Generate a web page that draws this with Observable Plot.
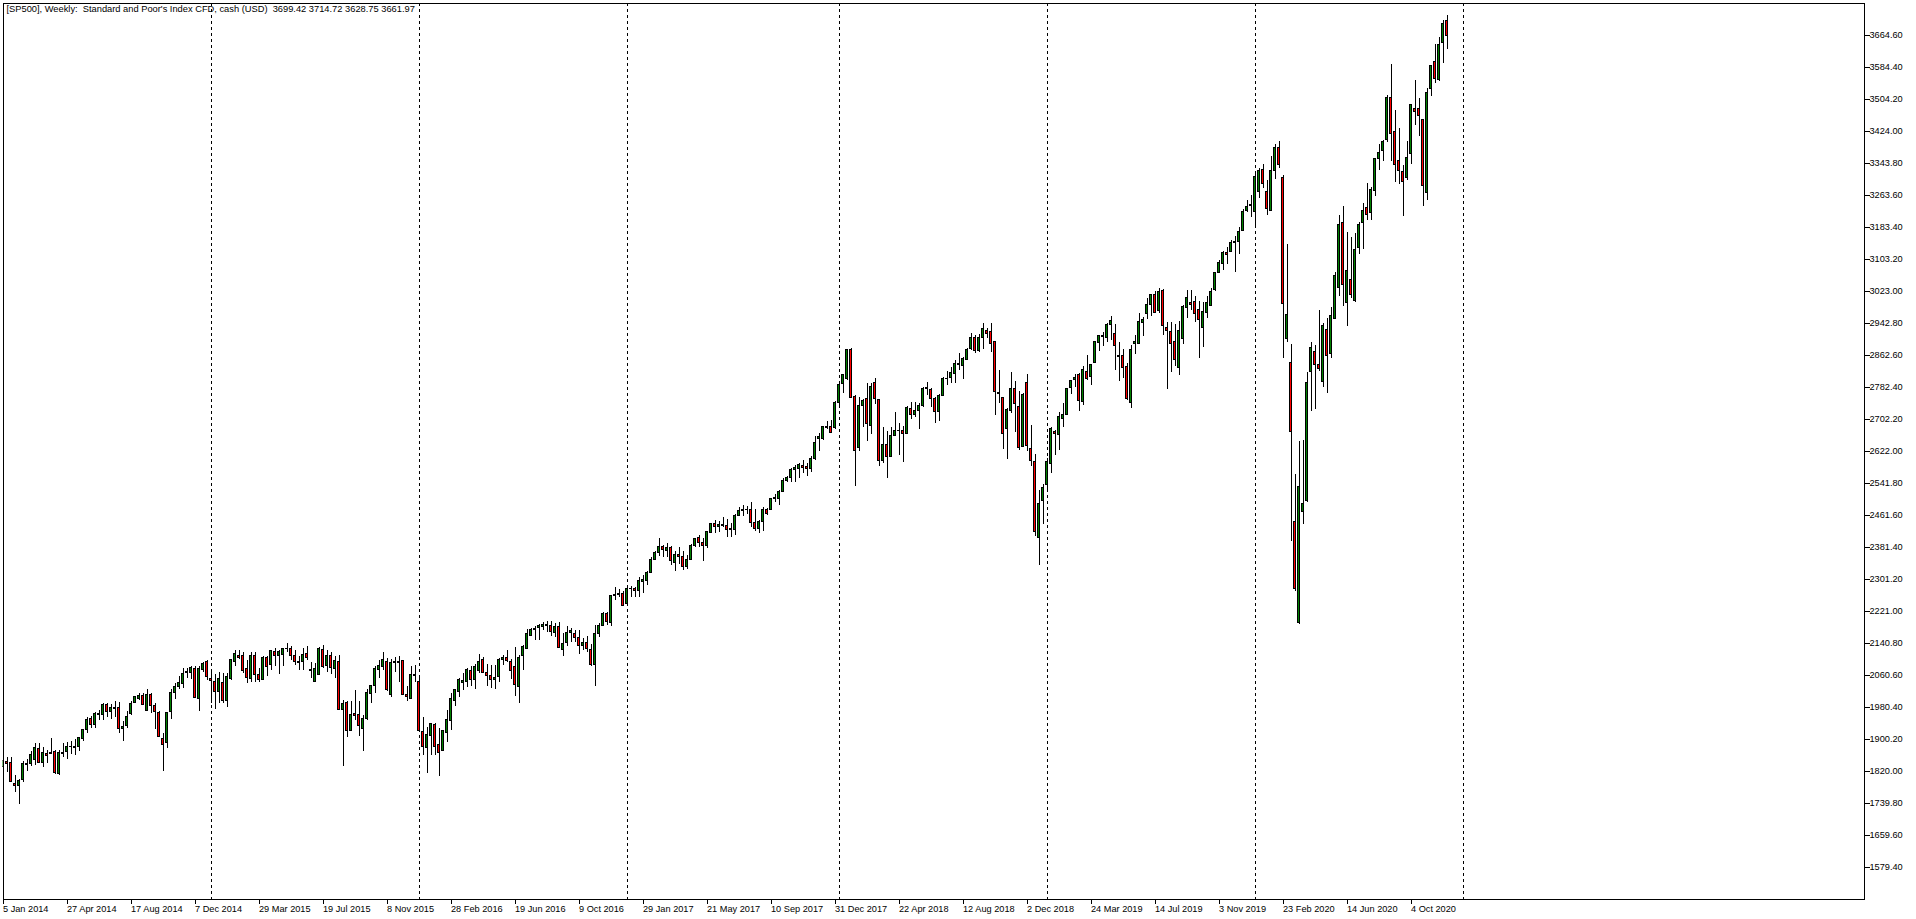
<!DOCTYPE html>
<html>
<head>
<meta charset="utf-8">
<script src="https://cdn.jsdelivr.net/npm/d3@7"></script>
<script src="https://cdn.jsdelivr.net/npm/@observablehq/plot@0.6"></script>
<style>
html,body{margin:0;padding:0;background:#fff;overflow:hidden}
svg{display:block}
svg text{white-space:pre}
</style>
</head>
<body>
<div id="chart"></div>
<script>
// Weekly bars, each [open, high, low, close]
const bars2014 = [[1830,1847,1826,1844],[1843,1853,1815,1838],[1841,1853,1790,1792],[1788,1809,1767,1782],[1782,1798,1737,1796],[1797,1844,1790,1838],[1835,1849,1820,1838],[1838,1868,1832,1861],[1848,1890,1835,1878],[1876,1888,1838,1840],[1840,1878,1829,1865],[1863,1872,1838,1858],[1866,1902,1862,1863],[1868,1872,1812,1815],[1812,1872,1809,1866],[1862,1889,1853,1866],[1868,1892,1848,1881],[1879,1893,1861,1881],[1878,1900,1859,1879],[1880,1905,1868,1902],[1901,1924,1893,1924],[1923,1954,1914,1949],[1951,1957,1926,1936],[1935,1967,1927,1964],[1960,1972,1947,1962],[1961,1989,1947,1985],[1985,1989,1954,1968],[1969,1987,1949,1979],[1979,1995,1954,1976],[1979,1991,1915,1926],[1925,1944,1895,1931],[1932,1968,1927,1956],[1963,1995,1959,1989],[1991,2007,1989,2005],[2000,2014,1997,2009],[2007,2014,1983,1985],[1970,2024,1970,2011],[2011,2014,1964,1983],[1984,1989,1925,1968],[1966,1970,1905,1905],[1901,1914,1820,1885],[1890,1967,1876,1966],[1968,2024,1950,2016],[2016,2039,2000,2031],[2031,2056,2025,2041],[2039,2076,2026,2064],[2066,2076,2051,2069],[2066,2082,2050,2077],[2076,2081,2003,2003],[2000,2081,1968,2075],[2072,2093,2068,2089],[2092,2096,2046,2056]];
const bars2015 = [[2051,2068,1989,2046],[2044,2061,1975,2018],[2018,2066,1989,2051],[2041,2064,1989,1995],[1995,2064,1979,2056],[2051,2099,2047,2097],[2093,2122,2081,2112],[2109,2122,2099,2103],[2107,2118,2064,2070],[2076,2097,2039,2053],[2050,2118,2043,2107],[2107,2116,2041,2061],[2061,2076,2041,2048],[2048,2106,2046,2104],[2102,2107,2056,2081],[2085,2122,2072,2120],[2119,2127,2081,2109],[2109,2122,2061,2117],[2111,2127,2082,2125],[2125,2139,2116,2127],[2127,2132,2096,2109],[2109,2122,2085,2094],[2091,2106,2071,2094],[2093,2127,2071,2110],[2112,2132,2096,2104],[2071,2091,2051,2074],[2044,2089,2042,2076],[2061,2129,2060,2127],[2124,2135,2076,2081],[2082,2122,2068,2107],[2107,2116,2062,2078],[2076,2106,2051,2095],[2094,2110,1971,1974],[1974,1997,1832,1989],[1990,1995,1903,1920],[1920,1993,1920,1961],[1963,2022,1947,1957],[1961,1993,1907,1933],[1926,1959,1870,1950],[1950,2024,1947,2016],[2014,2035,1989,2034],[2034,2082,2015,2076],[2073,2096,2051,2082],[2081,2116,2072,2099],[2093,2102,2020,2022],[2011,2099,2003,2091],[2091,2104,2068,2093],[2092,2107,2043,2091],[2095,2097,2010,2011],[2011,2031,1993,2005],[2000,2082,2000,2060],[2059,2085,2043,2061]];
const bars2016 = [[2044,2057,1920,1920],[1918,1954,1858,1880],[1878,1930,1813,1909],[1908,1939,1858,1939],[1936,1939,1859,1880],[1884,1926,1807,1865],[1870,1922,1870,1919],[1916,1972,1891,1949],[1946,2015,1922,2001],[1996,2025,1982,2022],[2018,2051,2005,2049],[2041,2064,2022,2046],[2043,2078,2029,2074],[2071,2081,2031,2049],[2049,2087,2025,2081],[2071,2112,2064,2092],[2099,2104,2064,2066],[2066,2087,2031,2058],[2059,2085,2026,2047],[2047,2085,2025,2054],[2056,2102,2043,2099],[2098,2110,2085,2102],[2102,2122,2091,2095],[2092,2099,2050,2071],[2081,2130,2007,2036],[2031,2110,1990,2104],[2107,2135,2072,2130],[2126,2174,2125,2163],[2158,2177,2158,2174],[2173,2181,2148,2176],[2178,2187,2148,2183],[2182,2191,2171,2185],[2183,2195,2166,2185],[2184,2194,2158,2168],[2166,2189,2154,2180],[2182,2193,2127,2128],[2124,2164,2107,2139],[2141,2182,2133,2167],[2165,2177,2142,2170],[2164,2173,2142,2153],[2154,2173,2112,2133],[2133,2152,2123,2142],[2142,2158,2118,2126],[2124,2138,2082,2085],[2086,2184,2033,2164],[2163,2189,2155,2183],[2183,2216,2181,2214],[2214,2216,2185,2193],[2191,2260,2181,2259],[2259,2280,2248,2262],[2260,2274,2256,2264],[2264,2269,2233,2234]];
const bars2017 = [[2239,2281,2235,2277],[2275,2283,2254,2277],[2277,2280,2256,2271],[2271,2305,2256,2295],[2294,2310,2266,2298],[2296,2321,2285,2317],[2316,2354,2315,2350],[2350,2371,2348,2367],[2366,2402,2358,2382],[2381,2386,2355,2374],[2371,2391,2355,2380],[2380,2383,2336,2347],[2341,2369,2321,2362],[2362,2380,2338,2356],[2356,2369,2323,2331],[2331,2360,2325,2350],[2350,2388,2348,2385],[2384,2402,2379,2402],[2405,2409,2381,2392],[2392,2402,2345,2384],[2384,2420,2377,2418],[2417,2440,2415,2440],[2440,2448,2415,2432],[2432,2446,2418,2437],[2434,2455,2430,2437],[2435,2450,2406,2425],[2424,2440,2406,2426],[2425,2462,2411,2460],[2458,2481,2457,2472],[2472,2485,2458,2474],[2473,2482,2463,2475],[2475,2493,2430,2442],[2442,2475,2421,2427],[2427,2448,2416,2445],[2445,2480,2421,2475],[2475,2477,2461,2464],[2474,2502,2472,2502],[2501,2513,2492,2503],[2502,2522,2486,2520],[2519,2552,2518,2548],[2547,2559,2542,2555],[2554,2578,2544,2575],[2574,2585,2544,2580],[2577,2590,2553,2586],[2585,2599,2565,2579],[2583,2590,2557,2577],[2577,2607,2569,2603],[2602,2659,2597,2643],[2652,2667,2620,2656],[2651,2682,2649,2681],[2680,2696,2676,2683],[2683,2699,2666,2667],[2680,2745,2675,2743]];
const bars2018 = [[2742,2791,2731,2788],[2790,2814,2767,2812],[2802,2876,2799,2874],[2874,2879,2753,2756],[2758,2762,2532,2623],[2630,2756,2622,2736],[2735,2751,2682,2748],[2753,2791,2647,2690],[2685,2791,2664,2783],[2793,2803,2739,2752],[2751,2752,2584,2598],[2596,2680,2590,2638],[2638,2672,2554,2608],[2608,2681,2607,2660],[2660,2718,2659,2673],[2671,2691,2611,2673],[2673,2684,2594,2665],[2665,2734,2664,2731],[2728,2743,2702,2712],[2712,2743,2706,2723],[2723,2741,2676,2736],[2734,2782,2730,2778],[2778,2794,2762,2780],[2776,2778,2731,2753],[2753,2757,2692,2720],[2720,2764,2696,2761],[2760,2806,2759,2803],[2802,2820,2787,2803],[2805,2831,2792,2818],[2815,2848,2791,2841],[2838,2866,2824,2841],[2835,2856,2802,2853],[2850,2878,2848,2876],[2877,2916,2874,2906],[2906,2912,2866,2873],[2873,2914,2868,2906],[2904,2941,2877,2929],[2924,2929,2903,2915],[2919,2941,2869,2891],[2894,2895,2710,2770],[2766,2824,2741,2768],[2756,2757,2626,2665],[2677,2728,2601,2726],[2722,2819,2716,2778],[2778,2797,2669,2740],[2733,2770,2624,2630],[2632,2766,2631,2763],[2793,2814,2622,2635],[2628,2686,2582,2597],[2595,2614,2408,2419],[2404,2523,2336,2488],[2497,2539,2438,2530]];
const bars2019 = [[2537,2603,2522,2595],[2590,2680,2565,2678],[2670,2674,2611,2665],[2661,2718,2624,2706],[2702,2741,2682,2711],[2712,2779,2711,2778],[2779,2799,2764,2797],[2799,2813,2782,2806],[2813,2816,2721,2747],[2745,2833,2737,2826],[2821,2862,2799,2802],[2808,2839,2785,2837],[2843,2895,2841,2894],[2893,2912,2872,2909],[2908,2920,2885,2909],[2905,2941,2893,2939],[2938,2960,2899,2949],[2916,2940,2824,2885],[2858,2894,2797,2861],[2861,2877,2803,2830],[2832,2841,2749,2752],[2742,2887,2729,2876],[2890,2912,2864,2894],[2890,2967,2889,2946],[2943,2956,2909,2951],[2965,3003,2952,2989],[2988,3015,2958,3012],[3014,3021,2966,2968],[2972,3029,2966,3021],[3024,3026,2912,2935],[2931,2945,2777,2923],[2921,2945,2818,2890],[2894,2939,2834,2849],[2830,2947,2810,2924],[2903,2986,2889,2984],[2980,3025,2955,3006],[2994,3025,2975,2988],[2996,3008,2945,2965],[2976,2996,2854,2950],[2930,2993,2882,2971],[2968,3008,2955,2992],[2985,3029,2983,3021],[3025,3068,3023,3067],[3067,3100,3066,3094],[3091,3123,3075,3119],[3119,3133,3090,3113],[3121,3150,3119,3144],[3144,3160,3070,3147],[3146,3182,3115,3172],[3174,3227,3173,3222],[3223,3250,3219,3234],[3236,3262,3206,3238]];
const bars2020 = [[3220,3318,3181,3308],[3270,3330,3255,3325],[3327,3340,3280,3291],[3272,3300,3213,3229],[3223,3361,3223,3325],[3324,3391,3303,3382],[3382,3398,3329,3339],[3307,3312,2854,2990],[2903,3139,2893,2964],[2843,2889,2396,2670],[2445,2564,2271,2276],[2191,2646,2186,2533],[2469,2649,2437,2490],[2497,2819,2494,2793],[2820,2894,2720,2879],[2871,2887,2726,2837],[2838,2975,2820,2828],[2795,2941,2780,2936],[2926,2954,2765,2860],[2865,2981,2855,2961],[2953,3069,2953,3061],[3030,3213,3010,3189],[3194,3235,2983,3038],[2993,3170,2935,3072],[3051,3158,3004,3013],[2997,3168,2995,3127],[3130,3194,3115,3189],[3194,3242,3128,3224],[3230,3292,3199,3213],[3218,3282,3200,3277],[3274,3356,3260,3355],[3354,3391,3325,3370],[3374,3401,3348,3397],[3401,3513,3396,3506],[3506,3591,3348,3416],[3422,3476,3295,3339],[3348,3430,3291,3325],[3321,3338,3209,3297],[3306,3398,3300,3357],[3366,3491,3341,3488],[3478,3551,3438,3472],[3480,3506,3411,3462],[3452,3452,3234,3287],[3269,3530,3250,3518],[3529,3588,3511,3588],[3598,3641,3544,3554],[3551,3659,3548,3640],[3645,3702,3594,3691],[3699.42,3714.72,3628.75,3661.97]];

const dateLabels = ["5 Jan 2014","27 Apr 2014","17 Aug 2014","7 Dec 2014","29 Mar 2015","19 Jul 2015","8 Nov 2015","28 Feb 2016","19 Jun 2016","9 Oct 2016","29 Jan 2017","21 May 2017","10 Sep 2017","31 Dec 2017","22 Apr 2018","12 Aug 2018","2 Dec 2018","24 Mar 2019","14 Jul 2019","3 Nov 2019","23 Feb 2020","14 Jun 2020","4 Oct 2020"];
const labelEvery = 16;
const priceTicks = [1579.4,1659.6,1739.8,1820,1900.2,1980.4,2060.6,2140.8,2221,2301.2,2381.4,2461.6,2541.8,2622,2702.2,2782.4,2862.6,2942.8,3023,3103.2,3183.4,3263.6,3343.8,3424,3504.2,3584.4,3664.6];
const yearSeparators = [52,104,156,209,261,313,365];
const headerText = "[SP500], Weekly:  Standard and Poor's Index CFD, cash (USD)  3699.42 3714.72 3628.75 3661.97";

const bars = [...bars2014,...bars2015,...bars2016,...bars2017,...bars2018,...bars2019,...bars2020]
  .map(([open,high,low,close],i)=>({i,open,high,low,close}));
const tickIndex = dateLabels.map((_,k)=>k*labelEvery);

const font = "'Liberation Sans', Arial, sans-serif";
const chart = Plot.plot({
  width:1916, height:919,
  marginLeft:2.5, marginRight:52.5, marginTop:2.5, marginBottom:20.5,
  style:{background:"#fff",fontFamily:font,fontSize:"9.2px",color:"#000",maxWidth:"none"},
  x:{type:"linear",domain:[0,465.25],axis:null},
  y:{type:"linear",domain:[1499.2,3744.8],axis:null},
  marks:[
    Plot.ruleX(bars,{x:"i",y1:"low",y2:"high",stroke:"#000",strokeWidth:1,shapeRendering:"crispEdges",clip:true}),
    Plot.rect(bars,{x1:d=>d.i-0.25,x2:d=>d.i+0.25,y1:"open",y2:"close",
      fill:d=>d.close>=d.open?"#008000":"#ff0000",stroke:"#000",strokeWidth:1,shapeRendering:"crispEdges",clip:true}),
    Plot.text([headerText],{frameAnchor:"top-left",dx:3.5,dy:2.5,lineAnchor:"top",textAnchor:"start",fill:"#000",fontSize:9.3}),
    Plot.ruleX(yearSeparators,{stroke:"#000",strokeWidth:1,strokeDasharray:"3,3",shapeRendering:"crispEdges"}),
    Plot.frame({stroke:"#000",strokeWidth:1,shapeRendering:"crispEdges"}),
    Plot.axisX({anchor:"bottom",ticks:tickIndex,tickSize:5,tickPadding:1,textAnchor:"start",
      tickFormat:v=>dateLabels[v/labelEvery],label:null,stroke:"#000",fill:"#000",fontSize:9.2,shapeRendering:"crispEdges"}),
    Plot.axisY({anchor:"right",ticks:priceTicks,tickSize:5,tickPadding:0.5,
      tickFormat:v=>v.toFixed(2),label:null,stroke:"#000",fill:"#000",fontSize:9.2,shapeRendering:"crispEdges"})
  ]
});
document.getElementById("chart").appendChild(chart);
</script>
</body>
</html>
